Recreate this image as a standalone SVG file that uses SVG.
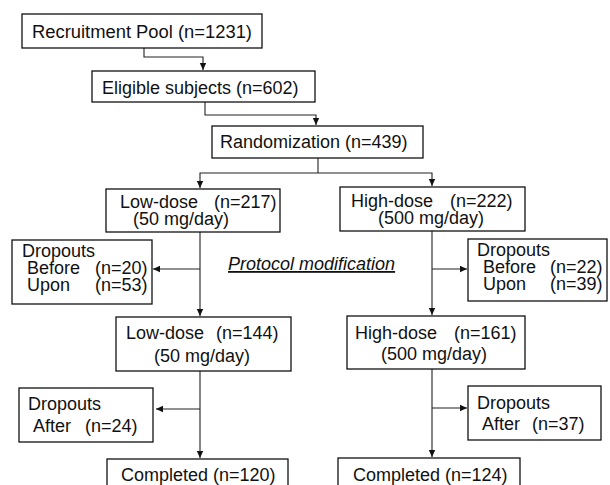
<svg xmlns="http://www.w3.org/2000/svg" width="610" height="485" viewBox="0 0 610 485">
<style>
.box{fill:#fff;stroke:#111;stroke-width:1.3}
.t{font-family:"Liberation Sans",Arial,sans-serif;font-size:18px;fill:#111}
.it{font-style:italic;text-decoration:underline}
.c{fill:none;stroke:#222;stroke-width:1.1}
</style>
<defs>
<marker id="ah" markerUnits="userSpaceOnUse" markerWidth="8" markerHeight="8" refX="7" refY="4" orient="auto">
<path d="M0,0.8 L7,4 L0,7.2 Z" fill="#111"/>
</marker>
</defs>
<rect width="610" height="485" fill="#fff"/>
<g id="connectors">
<path class="c" d="M144,48 V57 H203 V70" marker-end="url(#ah)"/>
<path class="c" d="M205,102 V115 H316 V125" marker-end="url(#ah)"/>
<path class="c" d="M318,158 V173"/>
<path class="c" d="M318,173 H200 V188" marker-end="url(#ah)"/>
<path class="c" d="M318,173 H432 V186" marker-end="url(#ah)"/>
<path class="c" d="M200,232 V316" marker-end="url(#ah)"/>
<path class="c" d="M200,269 H153" marker-end="url(#ah)"/>
<path class="c" d="M200,371 V458" marker-end="url(#ah)"/>
<path class="c" d="M200,409 H156" marker-end="url(#ah)"/>
<path class="c" d="M432,231 V315" marker-end="url(#ah)"/>
<path class="c" d="M432,269 H467" marker-end="url(#ah)"/>
<path class="c" d="M432,369 V457" marker-end="url(#ah)"/>
<path class="c" d="M432,408 H467" marker-end="url(#ah)"/>
</g>
<g id="recruitment"><rect class="box" x="22" y="14" width="240" height="34"/><text class="t" x="32" y="38" textLength="220" lengthAdjust="spacingAndGlyphs">Recruitment Pool (n=1231)</text></g>
<g id="eligible"><rect class="box" x="92" y="71" width="223" height="31"/><text class="t" x="102" y="94">Eligible subjects (n=602)</text></g>
<g id="randomization"><rect class="box" x="212" y="126" width="211" height="32"/><text class="t" x="220" y="148">Randomization (n=439)</text></g>
<g id="low1"><rect class="box" x="106" y="189" width="174" height="43"/><text class="t" x="120" y="208">Low-dose<tspan x="214">(n=217)</tspan></text><text class="t" x="133" y="225">(50 mg/day)</text></g>
<g id="high1"><rect class="box" x="340" y="187" width="185" height="44"/><text class="t" x="351" y="207">High-dose<tspan x="450">(n=222)</tspan></text><text class="t" x="378" y="224">(500 mg/day)</text></g>
<g id="dropL1"><rect class="box" x="12" y="240" width="140" height="64"/><text class="t" x="22" y="257">Dropouts</text><text class="t" x="27" y="274">Before<tspan x="95">(n=20)</tspan></text><text class="t" x="27" y="291">Upon<tspan x="95">(n=53)</tspan></text></g>
<g id="protocol"><text class="t it" x="228" y="270">Protocol modification</text></g>
<g id="dropR1"><rect class="box" x="468" y="239" width="139" height="62"/><text class="t" x="477" y="256">Dropouts</text><text class="t" x="483" y="273">Before<tspan x="550">(n=22)</tspan></text><text class="t" x="483" y="290">Upon<tspan x="550">(n=39)</tspan></text></g>
<g id="low2"><rect class="box" x="116" y="317" width="175" height="54"/><text class="t" x="126" y="339">Low-dose<tspan x="216">(n=144)</tspan></text><text class="t" x="154" y="362">(50 mg/day)</text></g>
<g id="high2"><rect class="box" x="347" y="316" width="178" height="53"/><text class="t" x="355" y="339">High-dose<tspan x="454">(n=161)</tspan></text><text class="t" x="381" y="360">(500 mg/day)</text></g>
<g id="dropL2"><rect class="box" x="19" y="388" width="134" height="54"/><text class="t" x="28" y="410">Dropouts</text><text class="t" x="33" y="432">After<tspan x="85">(n=24)</tspan></text></g>
<g id="dropR2"><rect class="box" x="468" y="386" width="133" height="54"/><text class="t" x="477" y="409">Dropouts</text><text class="t" x="482" y="430">After<tspan x="532">(n=37)</tspan></text></g>
<g id="completedL"><rect class="box" x="107" y="459" width="181" height="40"/><text class="t" x="121" y="481">Completed (n=120)</text></g>
<g id="completedR"><rect class="box" x="338" y="458" width="182" height="40"/><text class="t" x="353" y="481">Completed (n=124)</text></g>
</svg>
